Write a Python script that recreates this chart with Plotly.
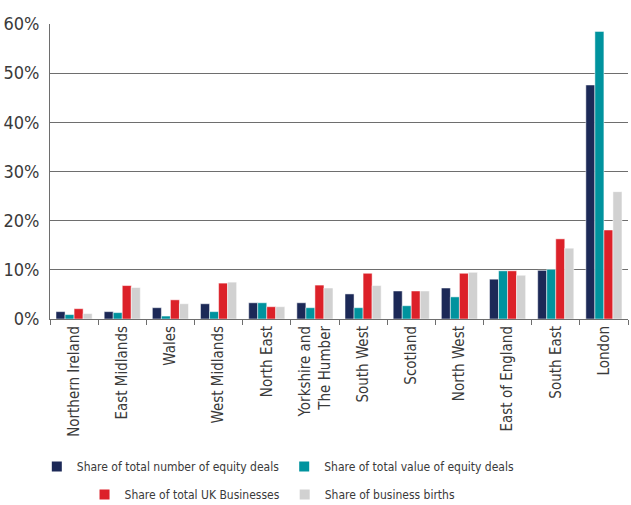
import plotly.graph_objects as go

REGIONS = ["Northern Ireland", "East Midlands", "Wales", "West Midlands", "North East",
           "Yorkshire and<br>The Humber", "South West", "Scotland", "North West",
           "East of England", "South East", "London"]

NUM_DEALS = [1.5, 1.5, 2.3, 3.1, 3.3, 3.3, 5.1, 5.7, 6.3, 8.1, 9.9, 47.6]
VALUE_DEALS = [0.9, 1.3, 0.6, 1.5, 3.3, 2.3, 2.3, 2.7, 4.5, 9.8, 10.1, 58.5]
UK_BUSINESSES = [2.1, 6.8, 3.9, 7.3, 2.5, 6.9, 9.3, 5.7, 9.3, 9.8, 16.3, 18.1]
BUSINESS_BIRTHS = [1.1, 6.4, 3.1, 7.5, 2.5, 6.3, 6.8, 5.7, 9.5, 8.9, 14.4, 25.9]

Y_TICKS = [0, 10, 20, 30, 40, 50, 60]

INK = "#3a3a3a"
GRID = "#6e6e6e"
FONT = dict(family="'DejaVu Sans Condensed', 'DejaVu Sans', sans-serif", color=INK)

series = [
    ("Share of total number of equity deals", NUM_DEALS, "#1c2957", "legend"),
    ("Share of total value of equity deals", VALUE_DEALS, "#00939e", "legend"),
    ("Share of total UK Businesses", UK_BUSINESSES, "#dc2129", "legend2"),
    ("Share of business births", BUSINESS_BIRTHS, "#d1d1d1", "legend2"),
]

fig = go.Figure()
for name, vals, color, leg in series:
    fig.add_trace(go.Bar(
        x=REGIONS, y=vals, name=name, marker_color=color,
        marker_line=dict(color="white", width=0.5),
        legend=leg,
        hovertemplate="%{x}: %{y:.1f}%<extra>" + name + "</extra>",
    ))

legend_common = dict(
    orientation="h", xref="paper", xanchor="center", yanchor="middle",
    font=dict(size=12, color=INK), bgcolor="rgba(0,0,0,0)",
    itemsizing="constant", tracegroupgap=0,
)

fig.update_layout(
    width=631, height=505,
    paper_bgcolor="white", plot_bgcolor="white",
    font=FONT,
    margin=dict(l=50, r=3, t=24, b=186, autoexpand=False),
    barmode="group",
    bargap=0.25,
    bargroupgap=0.0,
    xaxis=dict(
        tickangle=-90, tickfont=dict(size=15, color=INK),
        ticks="outside", tickson="boundaries", ticklen=5, tickcolor=GRID,
        showline=True, linecolor=GRID, linewidth=1,
        showgrid=False, automargin=False,
    ),
    yaxis=dict(
        range=[0, 60], tickvals=Y_TICKS, ticktext=[f"{v}%" for v in Y_TICKS],
        tickfont=dict(size=18, color=INK),
        gridcolor=GRID, gridwidth=1,
        showline=True, linecolor=GRID, linewidth=1,
        zeroline=False, ticks="", ticklabelstandoff=6, automargin=False,
    ),
    legend=dict(**legend_common, x=0.395, y=-0.5),
    legend2=dict(**legend_common, x=0.385, y=-0.595),
    showlegend=True,
)

fig.write_html("out.html", config=dict(displayModeBar=False),
               post_script="document.body.style.margin='0';")
